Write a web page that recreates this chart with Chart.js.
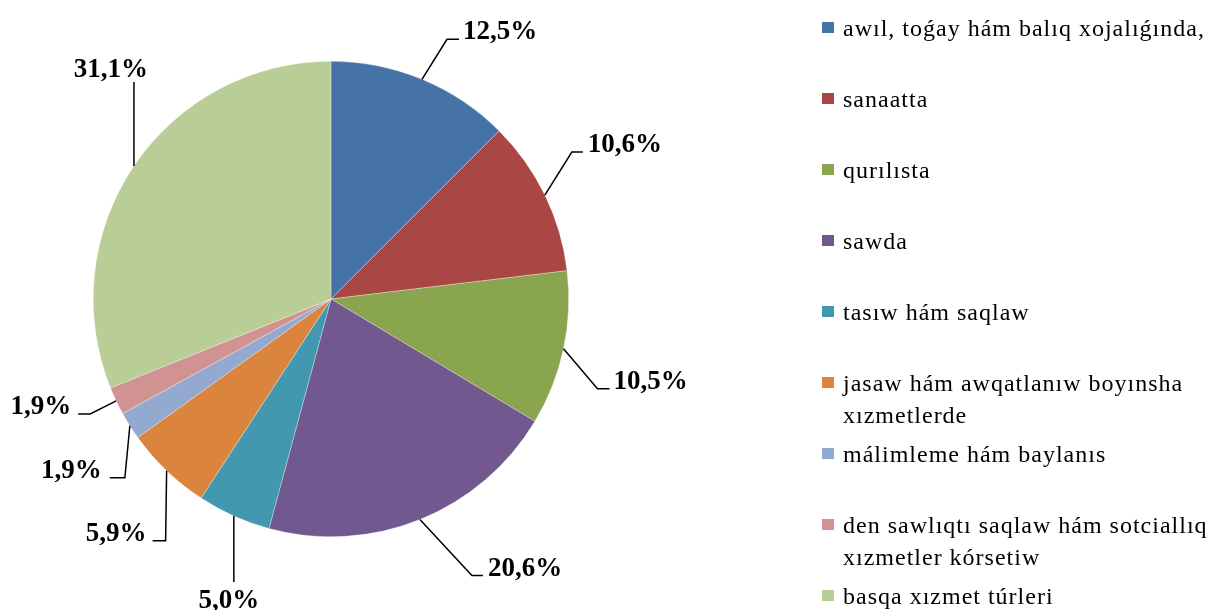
<!DOCTYPE html>
<html>
  <head>
    <meta charset="utf-8">
    <title>Bandlıq strukturası</title>
    <script src="https://cdn.jsdelivr.net/npm/chart.js@4/dist/chart.umd.min.js"></script>
    <style>
      html,body{
        width: 100%;
        height: 100%;
        margin: 0;
        padding: 0;
        background: #fff;
        overflow: hidden;
      }
      #wrap{
        position: relative;
        width: 1215px;
        height: 610px;
      }
      #myChart{
        position: absolute;
        left: 0;
        top: 0;
      }
      #legenda{
        position: absolute;
        left: 820px;
        top: 12px;
        font-family: "Liberation Serif", "Times New Roman", serif;
        font-size: 24px;
        letter-spacing: 1px;
        color: #000;
      }
      .item{
        position: relative;
        height: 71px;
        padding-left: 23px;
        line-height: 32px;
        white-space: nowrap;
      }
      .item .box{
        position: absolute;
        left: 2px;
        top: 10px;
        width: 12px;
        height: 11px;
      }
    </style>
  </head>
  <body>
    <div id="wrap">
      <canvas id="myChart" width="1215" height="610"></canvas>
      <div id="legenda"></div>
    </div>

    <script>
      // dados
      const categorias = [
        ['awıl, toǵay hám balıq xojalıǵında,'],
        ['sanaatta'],
        ['qurılısta'],
        ['sawda'],
        ['tasıw hám saqlaw'],
        ['jasaw hám awqatlanıw boyınsha', 'xızmetlerde'],
        ['málimleme hám baylanıs'],
        ['den sawlıqtı saqlaw hám sotciallıq', 'xızmetler kórsetiw'],
        ['basqa xızmet túrleri']
      ]
      const valores = [12.5, 10.6, 10.5, 20.6, 5.0, 5.9, 1.9, 1.9, 31.1]
      const rotulos = ['12,5%', '10,6%', '10,5%', '20,6%', '5,0%', '5,9%', '1,9%', '1,9%', '31,1%']

      const cores = ['#4572A7', '#AA4643', '#89A54E', '#71588F', '#4198AF', '#DB843D', '#93A9CF', '#D19392', '#B9CD96']

      // linhas de chamada: cotovelo (dx, dy a partir do arco), traço horizontal, deslocamento do texto, alinhamento
      const chamadas = [
        {dx: 25, dy: -40, h: 12, tx: 4, ty: 0, al: 'left'},
        {dx: 27, dy: -43, h: 11, tx: 5, ty: 0, al: 'left'},
        {dx: 34, dy: 40, h: 12, tx: 4, ty: 0, al: 'left'},
        {dx: 52, dy: 56, h: 11, tx: 5, ty: 0, al: 'left'},
        {dx: 0, dy: 66, h: 0, tx: -5, ty: 26, al: 'center'},
        {dx: -1, dy: 70, h: -13, tx: -6, ty: 0, al: 'right'},
        {dx: -5, dy: 52, h: -15, tx: -8, ty: 0, al: 'right'},
        {dx: -26, dy: 13, h: -12, tx: -7, ty: 0, al: 'right'},
        {dx: 0, dy: -84, h: 0, tx: -23, ty: -5, al: 'center'}
      ]
      //---------------------------------

      const rotulosPlugin = {
        id: 'rotulos',
        afterDatasetsDraw(chart){
          const ctx = chart.ctx
          const arcos = chart.getDatasetMeta(0).data
          ctx.save()
          ctx.strokeStyle = '#000'
          ctx.lineWidth = 1.5
          ctx.fillStyle = '#000'
          ctx.font = 'bold 27px "Liberation Serif", "Times New Roman", serif'
          ctx.textBaseline = 'alphabetic'
          arcos.forEach((arco, i) => {
            const c = chamadas[i]
            const meio = (arco.startAngle + arco.endAngle) / 2
            const ax = arco.x + Math.cos(meio) * arco.outerRadius
            const ay = arco.y + Math.sin(meio) * arco.outerRadius
            const ex = ax + c.dx, ey = ay + c.dy
            const fx = ex + c.h
            ctx.beginPath()
            ctx.moveTo(ax, ay)
            ctx.lineTo(ex, ey)
            if (c.h !== 0) ctx.lineTo(fx, ey)
            ctx.stroke()
            ctx.textAlign = c.al
            ctx.fillText(rotulos[i], fx + c.tx, ey + c.ty)
          })
          ctx.restore()
        }
      }

      let ctx = document.getElementById('myChart').getContext('2d')
      let myChart = new Chart(ctx, {
        type: 'pie',
        data: {
          labels: categorias,
          datasets: [{
            data: valores,
            backgroundColor: cores,
            borderColor: 'rgba(255,255,255,0.6)',
            borderWidth: 0.5
          }]
        },
        options: {
          responsive: false,
          animation: false,
          layout: {
            padding: {left: 93, right: 646, top: 61, bottom: 73}
          },
          plugins: {
            legend: {display: false},
            tooltip: {enabled: false}
          }
        },
        plugins: [rotulosPlugin]
      })

      // legenda
      const legenda = document.getElementById('legenda')
      categorias.forEach((linhas, i) => {
        const item = document.createElement('div')
        item.className = 'item'
        item.innerHTML = `<span class='box' style='background-color: ${cores[i]}'></span>` + linhas.join('<br>')
        legenda.append(item)
      })
    </script>
  </body>
</html>
